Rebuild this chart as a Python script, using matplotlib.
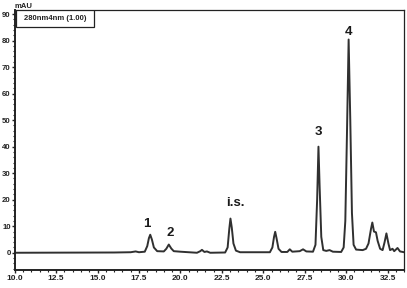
import matplotlib
matplotlib.use("Agg")
import matplotlib.pyplot as plt
from matplotlib.ticker import MultipleLocator, FormatStrFormatter
from matplotlib.patches import Rectangle

# Chromatogram trace (time in min, signal in mAU)
time_min = [10.0, 16.0, 17.0, 17.3, 17.5, 17.85, 18.0, 18.1, 18.18, 18.28, 18.4, 18.6,
            19.0, 19.15, 19.3, 19.45, 19.6, 20.0, 20.5, 21.0, 21.2, 21.3, 21.45, 21.6,
            21.8, 22.7, 22.85, 22.95, 23.02, 23.1, 23.2, 23.35, 23.6, 25.4, 25.55, 25.65,
            25.72, 25.8, 25.92, 26.1, 26.45, 26.6, 26.75, 27.2, 27.4, 27.6, 28.0, 28.15,
            28.25, 28.33, 28.4, 28.5, 28.62, 28.8, 29.0, 29.2, 29.7, 29.85, 29.95, 30.05,
            30.15, 30.25, 30.35, 30.45, 30.6, 31.0, 31.2, 31.35, 31.5, 31.58, 31.68, 31.8,
            31.9, 32.05, 32.2, 32.32, 32.43, 32.55, 32.65, 32.8, 32.9, 33.1, 33.25, 33.5]
signal_mau = [0.0, 0.1, 0.2, 0.5, 0.2, 0.4, 2.5, 5.5, 6.8, 5.0, 2.0, 0.6,
              0.5, 1.5, 3.1, 1.6, 0.6, 0.4, 0.2, 0.0, 0.6, 1.1, 0.3, 0.5,
              0.0, 0.1, 2.0, 9.0, 12.9, 9.5, 3.5, 0.8, 0.2, 0.2, 2.0, 6.0,
              7.9, 5.5, 1.5, 0.3, 0.3, 1.3, 0.4, 0.6, 1.3, 0.5, 0.4, 3.0,
              20.0, 40.0, 25.0, 6.0, 1.0, 0.7, 1.0, 0.4, 0.3, 2.0, 12.0, 45.0,
              80.4, 50.0, 15.0, 3.0, 1.2, 1.0, 1.5, 3.5, 9.0, 11.4, 8.0, 7.7,
              4.5, 1.5, 1.0, 4.0, 7.3, 3.5, 1.0, 1.5, 0.6, 1.8, 0.5, 0.2]

# Peak annotations
peak_labels = ["1", "2", "i.s.", "3", "4"]
peak_label_x = [18.0, 19.4, 23.3, 28.3, 30.16]
peak_label_y = [10.7, 7.3, 18.6, 45.7, 83.1]

x_tick_values = [10.0, 12.5, 15.0, 17.5, 20.0, 22.5, 25.0, 27.5, 30.0, 32.5]
y_tick_values = [0, 10, 20, 30, 40, 50, 60, 70, 80, 90]

legend_text = "280nm4nm (1.00)"
y_unit = "mAU"

fig = plt.figure(figsize=(4.07, 2.88), dpi=100)
ax = fig.add_axes([0.036, 0.0625, 0.957, 0.9025])

line_color = "#303030"
ax.plot(time_min, signal_mau, color=line_color, lw=1.4)

ax.set_xlim(10.0, 33.5)
ax.set_ylim(-6.5, 91.5)
ax.set_xticks(x_tick_values)
ax.set_yticks(y_tick_values)
ax.xaxis.set_major_formatter(FormatStrFormatter("%.1f"))
ax.xaxis.set_minor_locator(MultipleLocator(0.5))
ax.yaxis.set_minor_locator(MultipleLocator(2))

tick_family = ["Liberation Sans", "DejaVu Sans"]
for lab in ax.get_xticklabels():
    lab.set_fontfamily(tick_family)
    lab.set_fontweight("bold")
    lab.set_fontsize(6.0)
    lab.set_color("#222222")
for lab in ax.get_yticklabels():
    lab.set_fontfamily(tick_family)
    lab.set_fontweight("bold")
    lab.set_fontsize(5.6)
    lab.set_color("#222222")

ax.tick_params(axis="both", which="major", direction="out", length=2.5, width=1,
               pad=0.8, colors="#222222")
ax.tick_params(axis="y", which="major", pad=0.4)
ax.tick_params(axis="both", which="minor", direction="out", length=1.6, width=0.8,
               colors="#222222")

for side in ["left", "bottom"]:
    ax.spines[side].set_linewidth(1.4)
    ax.spines[side].set_color("#222222")
for side in ["top", "right"]:
    ax.spines[side].set_linewidth(0.9)
    ax.spines[side].set_color("#222222")

for lbl, lx, ly in zip(peak_labels, peak_label_x, peak_label_y):
    ax.text(lx, ly, lbl, ha="center", va="center", fontsize=9.5, fontweight="bold",
            family=["Liberation Sans", "DejaVu Sans"], color="#1a1a1a")

# legend box at top-left
ax.add_patch(Rectangle((0.003, 0.936), 0.2, 0.064, transform=ax.transAxes,
                       facecolor="white", edgecolor="#222222", lw=0.9, zorder=5))
ax.text(0.103, 0.968, legend_text, transform=ax.transAxes, ha="center", va="center",
        fontsize=5.5, fontweight="bold", family=["Liberation Sans", "DejaVu Sans"],
        color="#222222", zorder=6)

ax.text(0.0, 1.0, y_unit, transform=ax.transAxes, ha="left", va="bottom",
        fontsize=5.5, fontweight="bold", family=["Liberation Sans", "DejaVu Sans"],
        color="#222222")

fig.savefig("out.png", dpi=100)
